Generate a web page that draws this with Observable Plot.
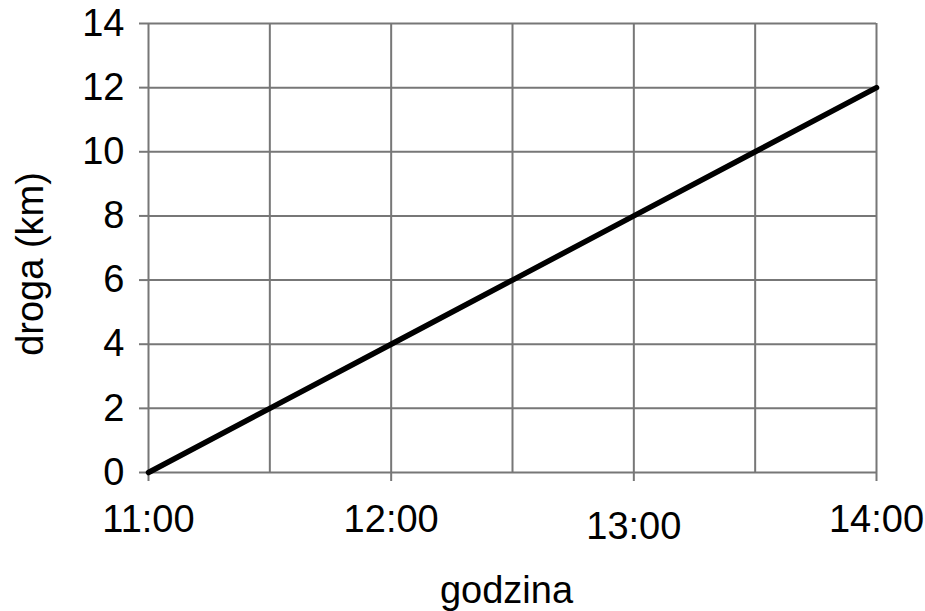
<!DOCTYPE html>
<html>
<head>
<meta charset="utf-8">
<script src="https://cdn.jsdelivr.net/npm/d3@7"></script>
<script src="https://cdn.jsdelivr.net/npm/@observablehq/plot@0.6"></script>
<style>
  html, body { margin: 0; padding: 0; background: #fff; }
  #chart svg { display: block; }
</style>
</head>
<body>
<div id="chart"></div>
<script>
// Data
const times = ["11:00", "11:30", "12:00", "12:30", "13:00", "13:30", "14:00"];
const distanceKm = [0, 2, 4, 6, 8, 10, 12];
const xTickLabels = ["11:00", "12:00", "13:00", "14:00"];
const yTickValues = [0, 2, 4, 6, 8, 10, 12, 14];
const xTitle = "godzina";
const yTitle = "droga (km)";

const toHours = s => { const [h, m] = s.split(":").map(Number); return h + m / 60; };
const rows = times.map((t, i) => ({ t: toHours(t), km: distanceKm[i] }));
const gridHours = times.map(toHours);
const labelHours = xTickLabels.map(toHours);
const labelRows = xTickLabels.map((s, i) => ({ s, t: labelHours[i] }));

const gray = "#777777";
const font = "'Liberation Sans', Arial, Helvetica, sans-serif";
const fs = 38;

const chart = Plot.plot({
  width: 925,
  height: 611,
  marginLeft: 148,
  marginRight: 49,
  marginTop: 23,
  marginBottom: 139,
  style: { fontFamily: font, background: "#fff" },
  x: { domain: [11, 14] },
  y: { domain: [0, 14] },
  marks: [
    Plot.gridX(gridHours, { stroke: gray, strokeOpacity: 1, strokeWidth: 2 }),
    Plot.gridY(yTickValues, { stroke: gray, strokeOpacity: 1, strokeWidth: 2 }),
    Plot.axisX(labelHours, { tickSize: 9, stroke: gray, strokeWidth: 2, tickFormat: () => "", label: null }),
    Plot.axisY(yTickValues, {
      tickSize: 9, stroke: gray, strokeWidth: 2, tickPadding: 15,
      fontSize: fs, fill: "#000", label: null
    }),
    Plot.text(labelRows, {
      filter: d => d.s !== "13:00",
      x: "t", text: "s", frameAnchor: "bottom", dy: 59,
      fontSize: fs, fill: "#000", lineAnchor: "bottom", textAnchor: "middle"
    }),
    Plot.text(labelRows, {
      filter: d => d.s === "13:00",
      x: "t", text: "s", frameAnchor: "bottom", dy: 66,
      fontSize: fs, fill: "#000", lineAnchor: "bottom", textAnchor: "middle"
    }),
    Plot.line(rows, { x: "t", y: "km", stroke: "#000", strokeWidth: 5.5 }),
    Plot.text([xTitle], {
      frameAnchor: "bottom", dx: -6, dy: 130, fontSize: fs, fill: "#000",
      lineAnchor: "bottom", textAnchor: "middle"
    }),
    Plot.text([yTitle], {
      frameAnchor: "left", dx: -106, dy: 16, rotate: -90, fontSize: fs, fill: "#000",
      lineAnchor: "bottom", textAnchor: "middle"
    })
  ]
});
document.getElementById("chart").appendChild(chart);
</script>
</body>
</html>
